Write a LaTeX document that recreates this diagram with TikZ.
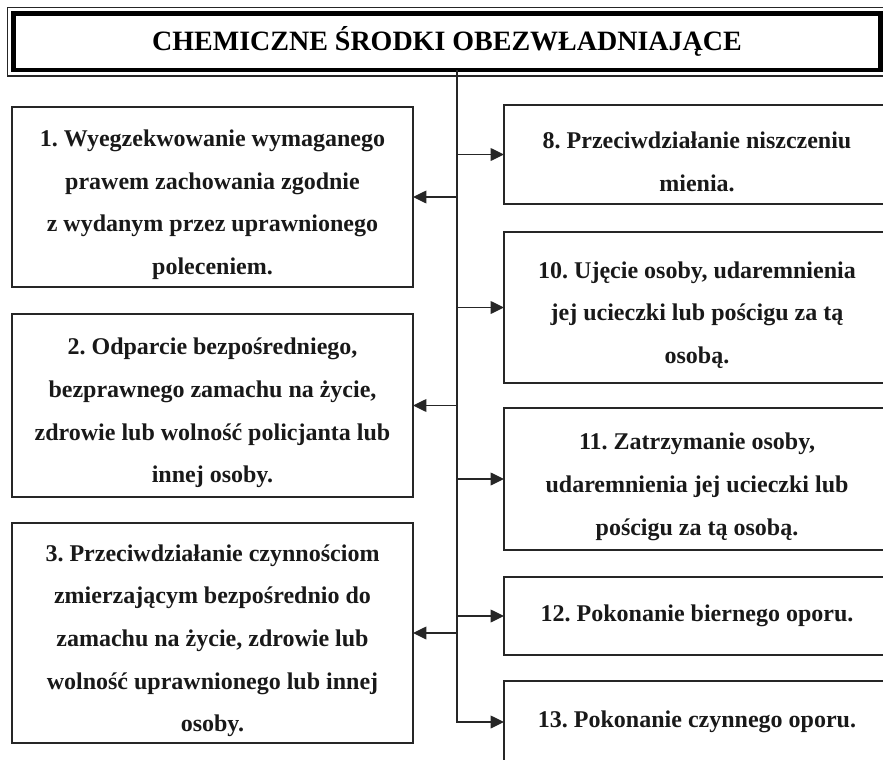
\documentclass[tikz,border=0pt]{standalone}
\usepackage{fontspec}
\setmainfont{Liberation Serif}
\usetikzlibrary{arrows.meta,calc}
% extra room above the first line of a box
\newcommand{\lowr}{\rule{0pt}{24pt}}

\begin{document}
\frenchspacing
\begin{tikzpicture}[
    x=0.75pt, y=-0.75pt,
    box/.style={draw=black!85, line width=1pt, align=center, inner sep=0pt, outer sep=0pt,
        font=\bfseries\fontsize{18}{32}\selectfont, text=black!90},
    leftbox/.style={box, minimum width=300.75pt},
    rightbox/.style={box, minimum width=289.5pt},
    titlebox/.style={draw=black, line width=3.5pt, inner sep=0pt, outer sep=0pt,
        minimum width=650.25pt, minimum height=42.4pt, font=\bfseries\fontsize{21}{26}\selectfont},
    arrow/.style={-{Triangle[length=10pt,width=9.5pt]}, line width=1.1pt, draw=black!85}
]
\useasboundingbox (0,0) rectangle (883,760);
\clip (0,0) rectangle (883,760);

% title
\node[titlebox] (title) at (447,41.75) {CHEMICZNE ŚRODKI OBEZWŁADNIAJĄCE};
\draw[line width=0.8pt, black!85] ($(title.north west)+(-6,-6)$) rectangle ($(title.south east)+(6,6)$);

% left column
\node[leftbox, minimum height=135pt] (b1) at (212.5,197) {\lowr 1. Wyegzekwowanie wymaganego\\prawem zachowania zgodnie\\z wydanym przez uprawnionego\\poleceniem.};
\node[leftbox, minimum height=137.25pt] (b2) at (212.5,405.5) {\lowr 2. Odparcie bezpośredniego,\\bezprawnego zamachu na życie,\\zdrowie lub wolność policjanta lub\\innej osoby.};
\node[leftbox, minimum height=165pt] (b3) at (212.5,633) {\lowr 3. Przeciwdziałanie czynnościom\\zmierzającym bezpośrednio do\\zamachu na życie, zdrowie lub\\wolność uprawnionego lub innej\\osoby.};

% right column
\node[rightbox, minimum height=74.25pt] (b8) at (697,154.5) {\lowr 8. Przeciwdziałanie niszczeniu\\mienia.};
\node[rightbox, minimum height=113.25pt] (b10) at (697,307.5) {\lowr 10. Ujęcie osoby, udaremnienia\\jej ucieczki lub pościgu za tą\\osobą.};
\node[rightbox, minimum height=106.5pt] (b11) at (697,479) {\lowr 11. Zatrzymanie osoby,\\udaremnienia jej ucieczki lub\\pościgu za tą osobą.};
\node[rightbox, minimum height=58.5pt] (b12) at (697,616) {12. Pokonanie biernego oporu.};
\node[rightbox, minimum height=61.5pt] (b13) at (697,722) {13. Pokonanie czynnego oporu.};

% connectors
\coordinate (trunk) at (457,70);
\draw[arrow] (trunk) |- (b13);
\draw[arrow] (b8 -| trunk) -- (b8);
\draw[arrow] (b10 -| trunk) -- (b10);
\draw[arrow] (b11 -| trunk) -- (b11);
\draw[arrow] (b12 -| trunk) -- (b12);
\draw[arrow] (b1 -| trunk) -- (b1);
\draw[arrow] (b2 -| trunk) -- (b2);
\draw[arrow] (b3 -| trunk) -- (b3);
\end{tikzpicture}
\end{document}
